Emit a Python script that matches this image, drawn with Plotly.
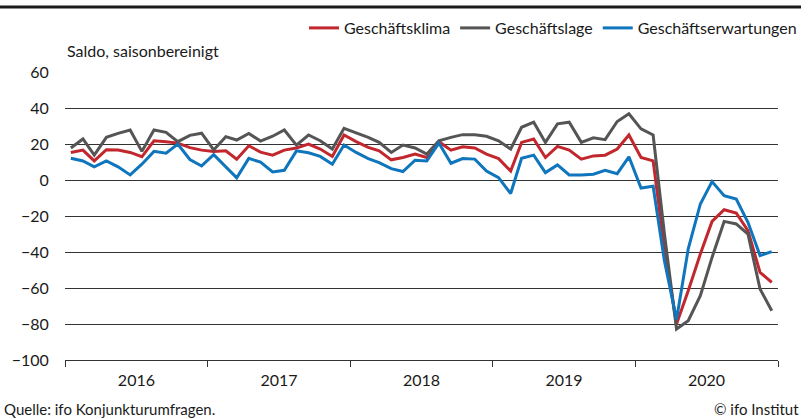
import plotly.graph_objects as go

# monthly values Jan 2016 - Dec 2020 (Saldo, saisonbereinigt)
monate = [f"{j}-{m:02d}-16" for j in range(2016, 2021) for m in range(1, 13)]

klima = [15.3, 16.6, 10.6, 16.8, 16.6, 15.3, 12.9, 21.8, 21.3, 20.5, 18.0, 16.6,
         15.9, 16.2, 11.5, 19.0, 15.5, 13.8, 16.6, 17.8, 20.0, 17.2, 13.1, 25.0,
         21.3, 18.1, 16.2, 11.2, 12.5, 14.4, 12.5, 21.3, 16.6, 18.5, 17.8, 14.4,
         11.9, 5.0, 20.9, 22.8, 12.5, 18.7, 16.6, 11.6, 13.4, 13.8, 17.2, 25.0,
         12.5, 10.6, -38.0, -80.0, -61.5, -41.1, -23.0, -16.5, -18.3, -28.2, -51.3, -56.9]

lage = [17.8, 22.8, 13.8, 23.7, 25.9, 27.8, 15.9, 27.8, 26.5, 21.3, 24.8, 26.0,
        16.7, 24.1, 22.2, 25.9, 21.6, 24.3, 27.8, 19.4, 25.0, 21.8, 17.2, 28.7,
        26.2, 23.7, 20.9, 15.3, 19.4, 17.8, 14.4, 21.8, 23.7, 25.2, 25.2, 24.3,
        21.8, 17.2, 29.3, 32.1, 20.9, 31.2, 32.1, 20.9, 23.4, 22.4, 32.5, 36.8,
        28.4, 25.0, -30.0, -82.8, -78.2, -64.3, -43.0, -23.0, -24.4, -30.0, -60.6, -72.6]

erwartungen = [12.1, 10.6, 7.3, 10.6, 7.3, 2.8, 8.8, 15.9, 14.9, 20.0, 11.4, 7.8,
               14.1, 7.5, 1.2, 12.0, 9.9, 4.5, 5.4, 16.2, 15.1, 13.1, 8.8, 19.4,
               15.3, 11.9, 9.7, 6.3, 4.7, 11.0, 10.6, 20.5, 9.3, 11.9, 11.6, 5.0,
               1.3, -7.5, 12.1, 13.8, 4.1, 8.4, 2.8, 2.8, 3.2, 5.4, 3.5, 12.9,
               -4.5, -3.5, -45.0, -77.5, -38.3, -13.3, -0.9, -8.7, -10.6, -23.5, -42.0, -39.8]

reihen = [
    ("Geschäftsklima", klima, "#c1272d"),
    ("Geschäftslage", lage, "#555555"),
    ("Geschäftserwartungen", erwartungen, "#0f75bc"),
]

FONT = "Lato, 'Open Sans', sans-serif"

fig = go.Figure()
for name, werte, farbe in reihen:
    fig.add_trace(go.Scatter(
        x=monate, y=werte, mode="lines", name=name,
        line=dict(color=farbe, width=3),
    ))

# plot area in pixels: x 65..778, y 72..360
L, R, T, B = 65, 31, 72, 59
W, H = 809, 419
pw, ph = W - L - R, H - T - B

def px(x):
    return (x - L) / pw

def py(y):
    return (H - B - y) / ph

fig.update_layout(
    width=W, height=H,
    margin=dict(l=L, r=R, t=T, b=B, autoexpand=False),
    paper_bgcolor="white", plot_bgcolor="white",
    font=dict(family=FONT, size=16, color="#1a1a1a"),
    showlegend=True,
    legend=dict(
        orientation="h", x=px(802), xanchor="right", y=py(28), yanchor="middle",
        font=dict(size=16), itemwidth=30, tracegroupgap=0,
        bgcolor="rgba(0,0,0,0)",
    ),
    xaxis=dict(
        type="date", range=["2016-01-01", "2021-01-01"],
        tick0="2016-01-01", dtick="M12", tickformat="%Y",
        ticklabelmode="period", ticks="outside", ticklen=6, tickcolor="#333",
        showgrid=False, showline=True, linecolor="#333", linewidth=1,
        tickfont=dict(size=16), fixedrange=True, automargin=False,
    ),
    yaxis=dict(
        range=[-100, 60], dtick=20, tick0=0,
        showgrid=True, gridcolor="#333333", gridwidth=1,
        zeroline=False, showline=False,
        ticks="outside", ticklen=12, tickcolor="rgba(0,0,0,0)",
        tickfont=dict(size=16), automargin=False,
    ),
    shapes=[dict(
        type="line", xref="paper", yref="paper",
        x0=px(0), x1=px(801), y0=py(7), y1=py(7),
        line=dict(color="#1a1a1a", width=3),
    )],
    annotations=[
        dict(text="Saldo, saisonbereinigt", xref="paper", yref="paper",
             x=px(65), y=py(50), xanchor="left", yanchor="middle",
             showarrow=False, font=dict(size=16)),
        dict(text="Quelle: ifo Konjunkturumfragen.", xref="paper", yref="paper",
             x=px(2), y=py(409), xanchor="left", yanchor="middle",
             showarrow=False, font=dict(size=15)),
        dict(text="© ifo Institut", xref="paper", yref="paper",
             x=px(801), y=py(409), xanchor="right", yanchor="middle",
             showarrow=False, font=dict(size=15)),
    ],
)

# the page body has an 8px default margin; drop it so the figure sits at 0,0
fig.write_html("out.html", config={"displayModeBar": False},
               post_script="document.body.style.margin='0';")
